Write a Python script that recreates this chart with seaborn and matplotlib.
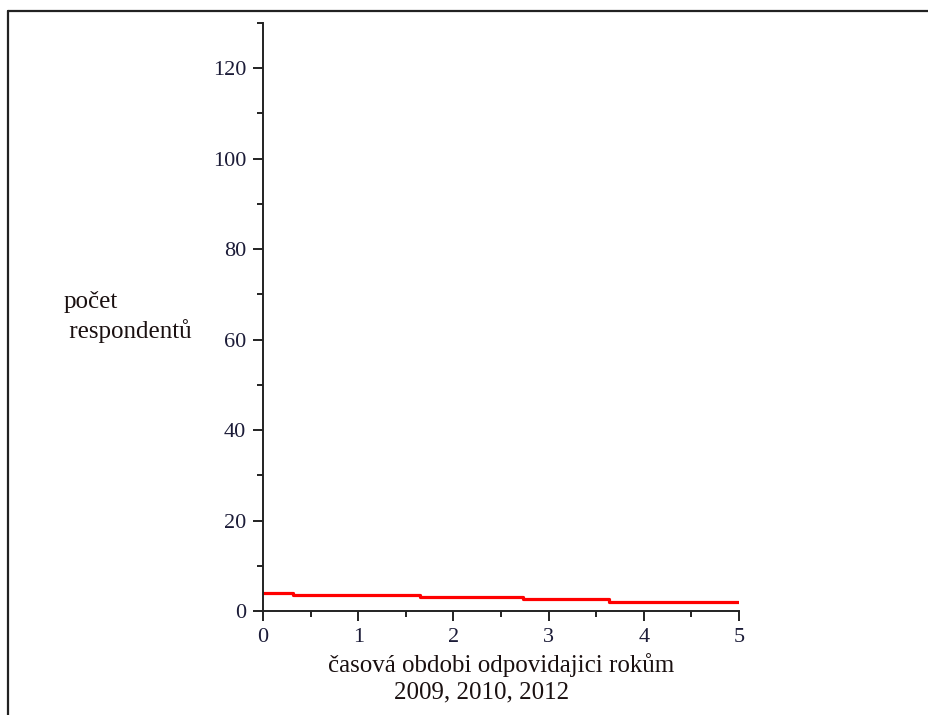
import matplotlib
matplotlib.use("Agg")
import matplotlib.pyplot as plt
from matplotlib.lines import Line2D
from matplotlib.ticker import MultipleLocator
import seaborn as sns

# Respondent counts per period (step function)
period_start = [0.0, 0.32, 1.65, 2.73, 3.63, 5.0]
respondents = [3.9, 3.45, 3.0, 2.55, 2.1, 2.1]

x_label = "časová obdobi odpovidajici rokům"
x_label_years = "2009, 2010, 2012"
y_label = "počet\n respondentů"

sns.set_style("ticks")
plt.rcParams["font.family"] = ["Liberation Serif", "DejaVu Serif"]

fig = plt.figure(figsize=(9.29, 7.15), dpi=100)
ax = fig.add_axes([263 / 929, 1 - 611 / 715, 476 / 929, 588 / 715])

sns.lineplot(x=period_start, y=respondents, ax=ax, color="#ff0000",
             linewidth=2.3, drawstyle="steps-post")

ax.set_xlim(0, 5)
ax.set_ylim(0, 130)
for side in ("top", "right"):
    ax.spines[side].set_visible(False)
for side in ("left", "bottom"):
    ax.spines[side].set_linewidth(1.4)
    ax.spines[side].set_color("#222222")

ax.xaxis.set_major_locator(MultipleLocator(1))
ax.xaxis.set_minor_locator(MultipleLocator(0.5))
ax.yaxis.set_major_locator(MultipleLocator(20))
ax.yaxis.set_minor_locator(MultipleLocator(10))
ax.set_yticks([0, 20, 40, 60, 80, 100, 120])

ax.tick_params(which="major", length=7, width=1.4, color="#222222",
               labelsize=16, labelcolor="#1c1c38", pad=5)
ax.tick_params(which="minor", length=4.5, width=1.4, color="#222222")

ax.set_xlabel("")
ax.set_ylabel("")
ax.text(0.5, -0.092, x_label, transform=ax.transAxes, ha="center",
        va="center", fontsize=18, color="#1a1010")
ax.text(0.46, -0.139, x_label_years, transform=ax.transAxes, ha="center",
        va="center", fontsize=18, color="#1a1010")
ax.text(-0.42, 0.5, y_label, transform=ax.transAxes, ha="left",
        va="center", fontsize=18, color="#1a1010", linespacing=1.3,
        multialignment="left")

# Frame lines along the top and left edges of the figure
fig.add_artist(Line2D([8 / 929, 1.0], [1 - 10.5 / 715, 1 - 10.5 / 715],
                      transform=fig.transFigure, color="#222222", linewidth=1.6))
fig.add_artist(Line2D([8 / 929, 8 / 929], [0.0, 1 - 10.5 / 715],
                      transform=fig.transFigure, color="#222222", linewidth=1.6))

fig.savefig("out.png", dpi=100, facecolor="white")
